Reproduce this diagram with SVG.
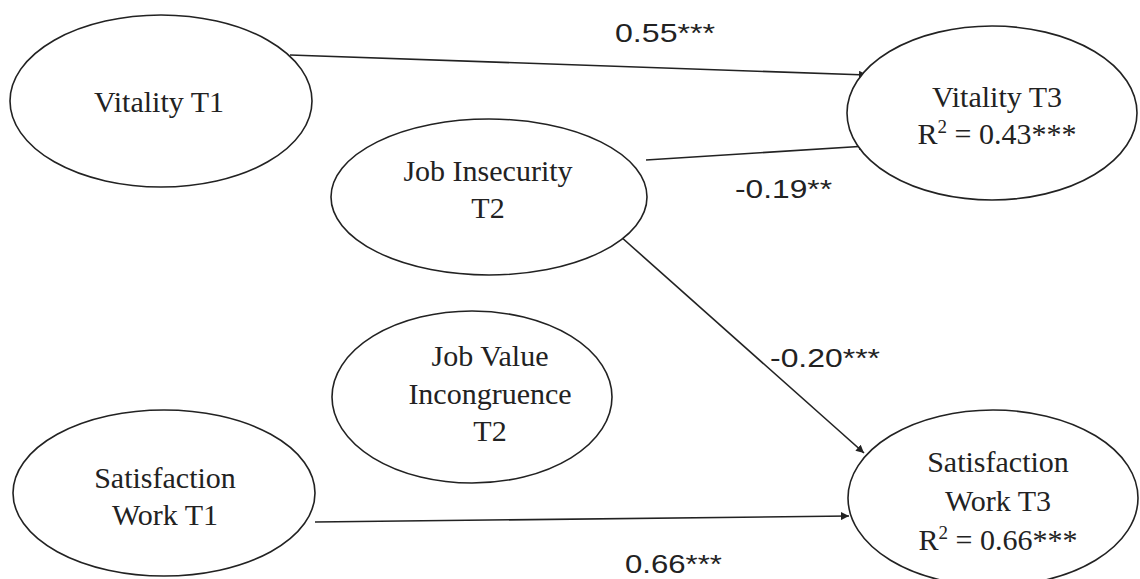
<svg xmlns="http://www.w3.org/2000/svg" width="1140" height="579" viewBox="0 0 1140 579">
<style>
.node ellipse{fill:#fff;stroke:#222;stroke-width:1.6}
.node text{font-family:"Liberation Serif","Times New Roman",serif;font-size:30px;fill:#222;text-anchor:middle}
.edges line{stroke:#222;stroke-width:1.6}
.coef{font-family:"Liberation Sans",Arial,sans-serif;font-size:26px;fill:#222}
</style>
<defs>
<marker id="arr" viewBox="0 0 10 10" refX="10" refY="5" markerWidth="8" markerHeight="8" markerUnits="userSpaceOnUse" orient="auto">
<path d="M0,0 L10,5 L0,10 z" fill="#222"/>
</marker>
</defs>
<rect width="1140" height="579" fill="#fff"/>
<g class="edges">
<line x1="290" y1="55" x2="867" y2="75" marker-end="url(#arr)"/>
<line x1="646" y1="160" x2="867" y2="146" marker-end="url(#arr)"/>
<line x1="620" y1="236" x2="864" y2="453" marker-end="url(#arr)"/>
<line x1="315" y1="522" x2="849" y2="516" marker-end="url(#arr)"/>
</g>
<g id="n-vit1" class="node">
<ellipse cx="161" cy="101" rx="151" ry="86"/>
<text x="159" y="112">Vitality T1</text>
</g>
<g id="n-vit3" class="node">
<ellipse cx="992" cy="113" rx="145" ry="87"/>
<text x="997" y="107">Vitality T3</text>
<text x="997" y="144">R<tspan font-size="19" dy="-11">2</tspan><tspan dy="11"> = 0.43***</tspan></text>
</g>
<g id="n-jis" class="node">
<ellipse cx="489" cy="197" rx="158" ry="78"/>
<text x="488" y="181">Job Insecurity</text>
<text x="488" y="218">T2</text>
</g>
<g id="n-jvi" class="node">
<ellipse cx="472" cy="397" rx="140" ry="86"/>
<text x="490" y="366">Job Value</text>
<text x="490" y="404">Incongruence</text>
<text x="490" y="441">T2</text>
</g>
<g id="n-sat1" class="node">
<ellipse cx="164" cy="493" rx="151" ry="83"/>
<text x="165" y="488">Satisfaction</text>
<text x="165" y="525">Work T1</text>
</g>
<g id="n-sat3" class="node">
<ellipse cx="993" cy="498" rx="145" ry="88"/>
<text x="998" y="472">Satisfaction</text>
<text x="998" y="511">Work T3</text>
<text x="998" y="550">R<tspan font-size="19" dy="-11">2</tspan><tspan dy="11"> = 0.66***</tspan></text>
</g>
<g id="labels">
<text class="coef" x="615" y="42" textLength="100" lengthAdjust="spacingAndGlyphs">0.55***</text>
<text class="coef" x="735" y="198" textLength="97" lengthAdjust="spacingAndGlyphs">-0.19**</text>
<text class="coef" x="770" y="367" textLength="110" lengthAdjust="spacingAndGlyphs">-0.20***</text>
<text class="coef" x="625" y="573" textLength="97" lengthAdjust="spacingAndGlyphs">0.66***</text>
</g>
</svg>
